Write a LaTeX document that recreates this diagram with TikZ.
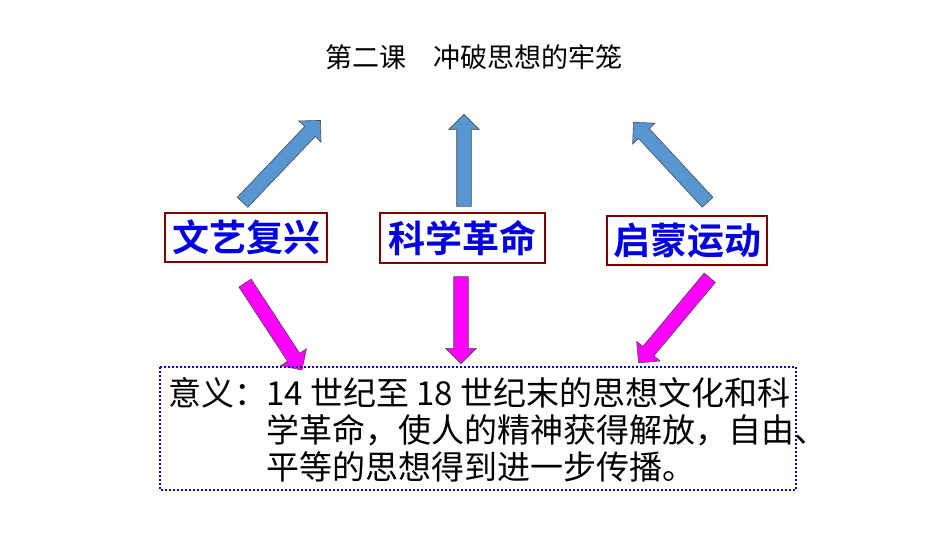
\documentclass[tikz,border=0pt]{standalone}
\usepackage{fontspec}
\setmainfont{Noto Sans CJK SC}
\newfontfamily\cjkb{Noto Sans CJK SC Bold}
\usetikzlibrary{shapes.arrows}
\begin{document}
\begin{tikzpicture}[x=1pt,y=-1pt,
  barrow/.style={single arrow,draw=black!70,line width=0.6pt,inner sep=7pt,single arrow head extend=8pt,minimum width=30pt,text width=0pt},
  mag/.style={barrow,fill=mg},
  lbl/.style={draw=red!50!black,line width=1.2pt,fill=white,font=\cjkb\fontsize{37}{40}\selectfont,text=blue!90!black,inner sep=0pt},
  body/.style={anchor=west,font=\fontsize{33}{36}\selectfont,inner sep=0pt}]
\definecolor{sb}{RGB}{88,150,210}
\definecolor{mg}{RGB}{255,0,255}
\useasboundingbox (0,0) rectangle (950,535);
\fill[white] (0,0) rectangle (950,535);
\node[font=\fontsize{27}{30}\selectfont] (title) at (474,57) {第二课\quad 冲破思想的牢笼};
\node[lbl,minimum width=162pt,minimum height=49pt] (a) at (246,237.5) {文艺复兴};
\node[lbl,minimum width=165pt,minimum height=50pt] (b) at (462.5,238) {科学革命};
\node[lbl,minimum width=160pt,minimum height=49pt] (c) at (687,240.5) {启蒙运动};
\node[barrow,fill=sb,minimum height=113pt,rotate=46.4] (u1) at (279,164) {};
\node[barrow,fill=sb,minimum height=92pt,rotate=90] (u2) at (464,164) {};
\node[barrow,fill=sb,minimum height=109pt,rotate=132.8] (u3) at (673,165) {};
\node[mag,minimum height=104pt,rotate=-56.8] (d1) at (271.5,323.5) {};
\node[mag,minimum height=87pt,rotate=-90] (d2) at (461,316.5) {};
\node[mag,minimum height=111pt,rotate=-129.9] (d3) at (676.5,317.5) {};
\draw[blue!80!black,line width=2pt,dash pattern=on 2pt off 2pt] (160,367) rectangle (796,490);
\node[body] (l0) at (168,393) {意义：};
\node[body] (l1) at (266,393) {14 世纪至 18 世纪末的思想文化和科};
\node[body] (l2) at (266,430) {学革命，使人的精神获得解放，自由、};
\node[body] (l3) at (266,467) {平等的思想得到进一步传播。};
\end{tikzpicture}
\end{document}
